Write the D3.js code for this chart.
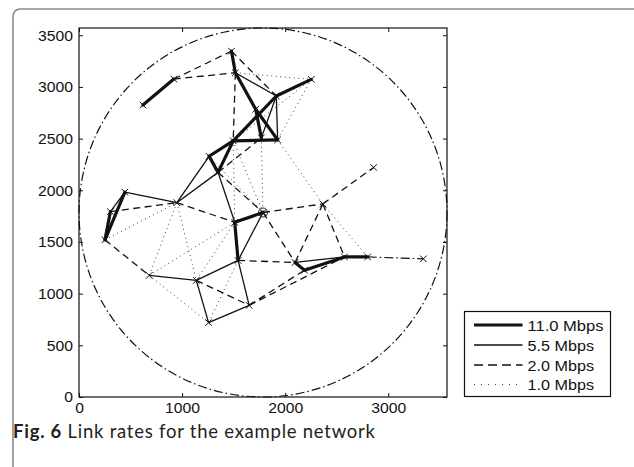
<!DOCTYPE html>
<html><head><meta charset="utf-8">
<script src="https://cdn.jsdelivr.net/npm/d3@7"></script>
<style>
html,body{margin:0;padding:0;background:#fff;}
svg{display:block;}
</style></head>
<body>
<svg id="chart" width="634" height="467"></svg>
<script>
// ---- data ----
const nodeNames = ["A","B","C","D","E","F","G","H1","H2","I","J","K","L","M","N","R","O","P","Q","S","T","U","V","W","X","Y","Z","AA","AB","AC"];
const nodeX = [620,920,1479,1517,2253,1914,1714,1769,1927,1496,1262,1349,445,949,305,252,1785,2366,2859,1511,1543,681,1138,1651,1257,2096,2188,2576,2801,3341];
const nodeY = [2825,3076,3346,3137,3073,2912,2784,2507,2488,2478,2329,2173,1982,1880,1794,1521,1785,1868,2221,1690,1321,1176,1128,887,720,1302,1227,1355,1355,1337];
const gatewayNode = "O";
const links11 = [["A","B"],["C","D"],["D","G"],["G","H1"],["G","H2"],["E","F"],["F","I"],["I","H2"],["I","J"],["I","K"],["J","K"],["L","R"],["N","R"],["S","O"],["S","T"],["Y","Z"],["Z","AA"],["AA","AB"]];
const links55 = [["D","F"],["F","H1"],["F","H2"],["L","N"],["L","M"],["M","J"],["M","K"],["K","S"],["T","O"],["T","V"],["T","W"],["U","V"],["V","X"],["X","W"],["Y","AA"]];
const links20 = [["B","C"],["B","D"],["C","F"],["D","I"],["N","M"],["M","S"],["R","U"],["V","W"],["W","Z"],["W","AA"],["T","Y"],["O","P"],["P","Q"],["P","Y"],["P","AA"],["K","O"],["O","Y"],["K","H1"]];
const links10 = [["D","E"],["E","H2"],["E","I"],["I","S"],["H1","O"],["H2","P"],["I","O"],["J","O"],["P","AB"],["R","M"],["M","U"],["M","V"],["U","X"],["S","V"],["U","S"],["T","X"]];
const linksOther = [["AB","AC"]];
const rangeCenter = [1785,1785];
const rangeRadius = 1785;
const legendLabels = ["11.0 Mbps","5.5 Mbps","2.0 Mbps","1.0 Mbps"];
const xTicks = [0,1000,2000,3000];
const yTicks = [0,500,1000,1500,2000,2500,3000,3500];
const axisMax = 3570;

// ---- drawing ----
const svg = d3.select("#chart");
const x = d3.scaleLinear().domain([0,axisMax]).range([79,447]);
const y = d3.scaleLinear().domain([0,axisMax]).range([397,28]);
const pos = {};
nodeNames.forEach((n,i)=>pos[n]=[nodeX[i],nodeY[i]]);

// outer frame
svg.append("path")
  .attr("d","M13,470 L13,17 Q13,9 21,9 L640,9")
  .attr("fill","none").attr("stroke","#8c8c8c").attr("stroke-width",1.6);

const fontTick = "'Liberation Sans', Arial, sans-serif";

const styles = [
  {links:links11, w:3.2, dash:null, color:"#111"},
  {links:links55, w:1.3, dash:null, color:"#111"},
  {links:links20, w:1.3, dash:"7,4.5", color:"#111"},
  {links:links10, w:1.0, dash:"1,3.5", color:"#444"}
];

// range circle (dash-dot)
svg.append("ellipse")
  .attr("cx",x(rangeCenter[0])).attr("cy",y(rangeCenter[1]))
  .attr("rx",x(rangeRadius)-x(0)).attr("ry",y(0)-y(rangeRadius))
  .attr("fill","none").attr("stroke","#111").attr("stroke-width",1.2)
  .attr("stroke-dasharray","9,3,1.5,3");

const g = svg.append("g");
[3,2,1,0].forEach(si=>{
  const s = styles[si];
  g.selectAll(null).data(s.links).enter().append("line")
    .attr("x1",d=>x(pos[d[0]][0])).attr("y1",d=>y(pos[d[0]][1]))
    .attr("x2",d=>x(pos[d[1]][0])).attr("y2",d=>y(pos[d[1]][1]))
    .attr("stroke",s.color).attr("stroke-width",s.w)
    .attr("stroke-dasharray",s.dash).attr("stroke-linecap",si===0?"round":"butt");
});
g.selectAll(null).data(linksOther).enter().append("line")
  .attr("x1",d=>x(pos[d[0]][0])).attr("y1",d=>y(pos[d[0]][1]))
  .attr("x2",d=>x(pos[d[1]][0])).attr("y2",d=>y(pos[d[1]][1]))
  .attr("stroke","#111").attr("stroke-width",1.2).attr("stroke-dasharray","9,3,1.5,3");

// node markers (x)
const m = 3.3;
g.selectAll(null).data(nodeNames).enter().append("path")
  .attr("d",n=>{const px=x(pos[n][0]), py=y(pos[n][1]);
     return `M${px-m},${py-m}L${px+m},${py+m}M${px-m},${py+m}L${px+m},${py-m}`;})
  .attr("stroke","#111").attr("stroke-width",1).attr("fill","none");
g.append("circle").attr("cx",x(pos[gatewayNode][0])).attr("cy",y(pos[gatewayNode][1]))
  .attr("r",4.5).attr("fill","none").attr("stroke","#111").attr("stroke-width",0.9);

// axes
const fmt = d3.format("d");
const axB = svg.append("g").attr("transform","translate(0,397)")
  .call(d3.axisBottom(x).tickValues(xTicks).tickFormat(fmt).tickSizeInner(-4).tickSizeOuter(0).tickPadding(5));
const axT = svg.append("g").attr("transform","translate(0,28)")
  .call(d3.axisTop(x).tickValues(xTicks).tickSizeInner(-4).tickSizeOuter(0).tickFormat(""));
const axL = svg.append("g").attr("transform","translate(79,0)")
  .call(d3.axisLeft(y).tickValues(yTicks).tickFormat(fmt).tickSizeInner(-4).tickSizeOuter(0).tickPadding(6));
const axR = svg.append("g").attr("transform","translate(447,0)")
  .call(d3.axisRight(y).tickValues(yTicks).tickSizeInner(-4).tickSizeOuter(0).tickFormat(""));
[axB,axT,axL,axR].forEach(a=>{
  a.select(".domain").remove();
  a.selectAll("line").attr("stroke","#111");
  a.selectAll("text").attr("font-family",fontTick).attr("font-size",15.5).attr("fill","#111")
    .each(function(){const t=this.textContent; if(t) d3.select(this).attr("textLength",t.length*8.75).attr("lengthAdjust","spacingAndGlyphs");});
});
svg.append("rect").attr("x",79).attr("y",28).attr("width",368).attr("height",369)
  .attr("fill","none").attr("stroke","#111").attr("stroke-width",1.2);

// legend
const lg = svg.append("g");
lg.append("rect").attr("x",464.5).attr("y",311.5).attr("width",146).attr("height",85)
  .attr("fill","#fff").attr("stroke","#111").attr("stroke-width",1.2);
const rowY = [325,345,365,384.5];
legendLabels.forEach((lab,i)=>{
  const s = styles[i];
  lg.append("line").attr("x1",474).attr("x2",522.5).attr("y1",rowY[i]).attr("y2",rowY[i])
    .attr("stroke",s.color).attr("stroke-width",s.w).attr("stroke-dasharray",i===3?"1,6":(i===2?"9,5":s.dash));
  lg.append("text").attr("x",527.5).attr("y",rowY[i]).attr("dy","0.36em")
    .attr("font-family",fontTick).attr("font-size",15.5).attr("fill","#111")
    .attr("textLength",i===0?76:66.5).attr("lengthAdjust","spacingAndGlyphs").text(lab);
});

// caption
const cap = svg.append("text").attr("x",13).attr("y",438)
  .attr("font-family","Lato, 'Open Sans', sans-serif").attr("font-size",18.5).attr("fill","#231f20")
  .attr("textLength",362).attr("lengthAdjust","spacing");
cap.append("tspan").attr("font-weight","bold").text("Fig. 6");
cap.append("tspan").text(" Link rates for the example network");
</script>
</body></html>
